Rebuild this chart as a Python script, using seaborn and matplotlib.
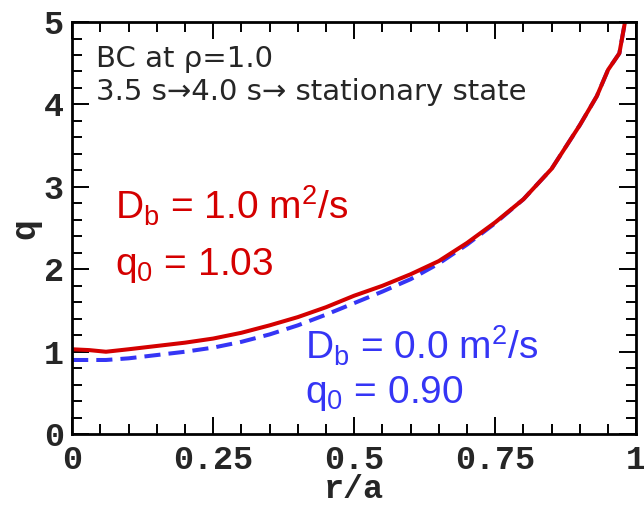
import numpy as np
import pandas as pd
import seaborn as sns
import matplotlib
matplotlib.use("Agg")
from matplotlib import pyplot as plt
from matplotlib.ticker import MultipleLocator

# q profiles
r_a = [0.0, 0.03, 0.06, 0.1, 0.15, 0.2, 0.25, 0.3, 0.35, 0.4, 0.45, 0.5,
       0.55, 0.6, 0.65, 0.7, 0.75, 0.8, 0.85, 0.9, 0.93, 0.95, 0.97, 0.98, 0.99]
q_db10 = [1.03, 1.02, 1.00, 1.03, 1.07, 1.11, 1.16, 1.23, 1.32, 1.42, 1.54, 1.68,
          1.80, 1.94, 2.10, 2.32, 2.57, 2.85, 3.22, 3.75, 4.10, 4.42, 4.62, 5.00, 5.30]
q_db00 = [0.90, 0.90, 0.90, 0.92, 0.96, 1.00, 1.05, 1.12, 1.21, 1.32, 1.45, 1.59,
          1.73, 1.88, 2.07, 2.30, 2.56, 2.85, 3.22, 3.75, 4.10, 4.42, 4.62, 5.00, 5.30]
cases = ['Db=0.0', 'Db=1.0']
xticks = [0, 0.25, 0.5, 0.75, 1]
xtick_labels = ['0', '0.25', '0.5', '0.75', '1']

df = pd.concat([
    pd.DataFrame({'r/a': r_a, 'q': q_db00, 'case': cases[0]}),
    pd.DataFrame({'r/a': r_a, 'q': q_db10, 'case': cases[1]}),
])

sns.set_style('ticks')
plt.rcParams['mathtext.fontset'] = 'custom'
plt.rcParams['mathtext.rm'] = 'Liberation Sans'
plt.rcParams['mathtext.it'] = 'Liberation Sans'

red = '#d40000'
blue = '#3535f5'

fig = plt.figure(figsize=(6.44, 5.12), dpi=100)
ax = fig.add_axes([0.112, 0.152, 0.876, 0.805])

sns.lineplot(data=df, x='r/a', y='q', hue='case', style='case',
             palette={cases[0]: blue, cases[1]: red},
             dashes={cases[0]: (4, 2), cases[1]: ''},
             linewidth=2.9, legend=False, ax=ax)

ax.set_xlim(0, 1)
ax.set_ylim(0, 5)
ax.set_xticks(xticks)
ax.set_xticklabels(xtick_labels)
ax.xaxis.set_minor_locator(MultipleLocator(0.05))
ax.yaxis.set_major_locator(MultipleLocator(1))
ax.yaxis.set_minor_locator(MultipleLocator(0.2))

tickfont = matplotlib.font_manager.FontProperties(family='Liberation Mono', weight='bold', size=24)
for lab in ax.get_xticklabels() + ax.get_yticklabels():
    lab.set_fontproperties(tickfont)

ax.tick_params(which='both', direction='in', top=True, right=True, width=1.4, color='black')
ax.tick_params(which='major', length=12)
ax.tick_params(which='minor', length=7)
ax.tick_params(axis='x', pad=8)
ax.tick_params(axis='y', pad=6)
for s in ax.spines.values():
    s.set_linewidth(2.0)
    s.set_color('black')

ax.set_xlabel('r/a', fontfamily='Liberation Mono', fontweight='bold', fontsize=24, labelpad=-2)
ax.set_ylabel('q', fontfamily='Liberation Mono', fontweight='bold', fontsize=25, labelpad=2)

ax.text(0.042, 0.891, 'BC at ρ=1.0', transform=ax.transAxes,
        fontfamily='DejaVu Sans', fontsize=21)
ax.text(0.042, 0.811, '3.5 s→4.0 s→ stationary state', transform=ax.transAxes,
        fontfamily='DejaVu Sans', fontsize=21)

ax.text(0.076, 2.60, r'D$_\mathrm{b}$ = 1.0 m$^2$/s', color=red, fontfamily='Liberation Sans', fontsize=28)
ax.text(0.076, 1.93, r'q$_0$ = 1.03', color=red, fontfamily='Liberation Sans', fontsize=28)
ax.text(0.413, 0.90, r'D$_\mathrm{b}$ = 0.0 m$^2$/s', color=blue, fontfamily='Liberation Sans', fontsize=28)
ax.text(0.413, 0.38, r'q$_0$ = 0.90', color=blue, fontfamily='Liberation Sans', fontsize=28)

fig.savefig('out.png', dpi=100)
